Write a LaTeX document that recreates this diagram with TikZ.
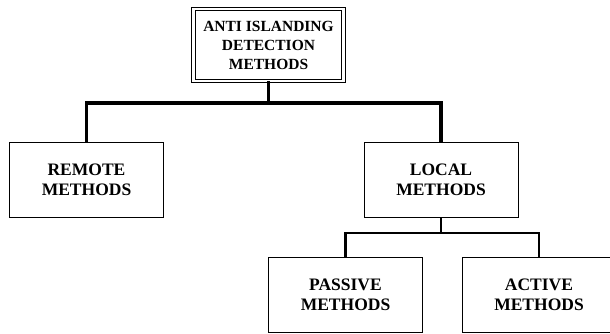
\documentclass[tikz,border=0pt]{standalone}
\usepackage{fontspec}
\setmainfont{Liberation Serif}
\usetikzlibrary{positioning}

\tikzset{
    method/.style={draw, line width=1pt, align=center, font=\fontsize{17.5}{20}\selectfont\bfseries,
        minimum width=154pt, minimum height=75pt, inner sep=0pt},
    root/.style={draw, line width=0.8pt, double, double distance=2.6pt, align=center,
        font=\fontsize{15.5}{19}\selectfont\bfseries,
        minimum width=150pt, minimum height=72pt, inner sep=0pt},
    mainbus/.style={line width=3.6pt},
    subbus/.style={line width=2.3pt}
}

\begin{document}
\begin{tikzpicture}[x=1pt, y=-1pt]
    \useasboundingbox (0,0) rectangle (610,333);
    \clip (0,0) rectangle (610,333);

    \node[root] (aid) at (268.5,45) {ANTI ISLANDING\\DETECTION\\METHODS};

    \node[method] (remote) at (86.5,180) {REMOTE\\METHODS};
    \node[method] (local) at (441,180) {LOCAL\\METHODS};

    \node[method] (passive) at (345.5,294.5) {PASSIVE\\METHODS};
    \node[method] (active) at (539,295) {ACTIVE\\METHODS};

    \coordinate (bus1) at (0,103);
    \coordinate (bus2) at (0,233);

    \draw[mainbus] (aid.south) -- (aid.south |- bus1);
    \draw[mainbus] (remote.north) -- (remote.north |- bus1) -- (local.north |- bus1) -- (local.north);

    \draw[subbus] (local.south) -- (local.south |- bus2);
    \draw[subbus] (passive.north) -- (passive.north |- bus2) -- (active.north |- bus2) -- (active.north);
\end{tikzpicture}
\end{document}
